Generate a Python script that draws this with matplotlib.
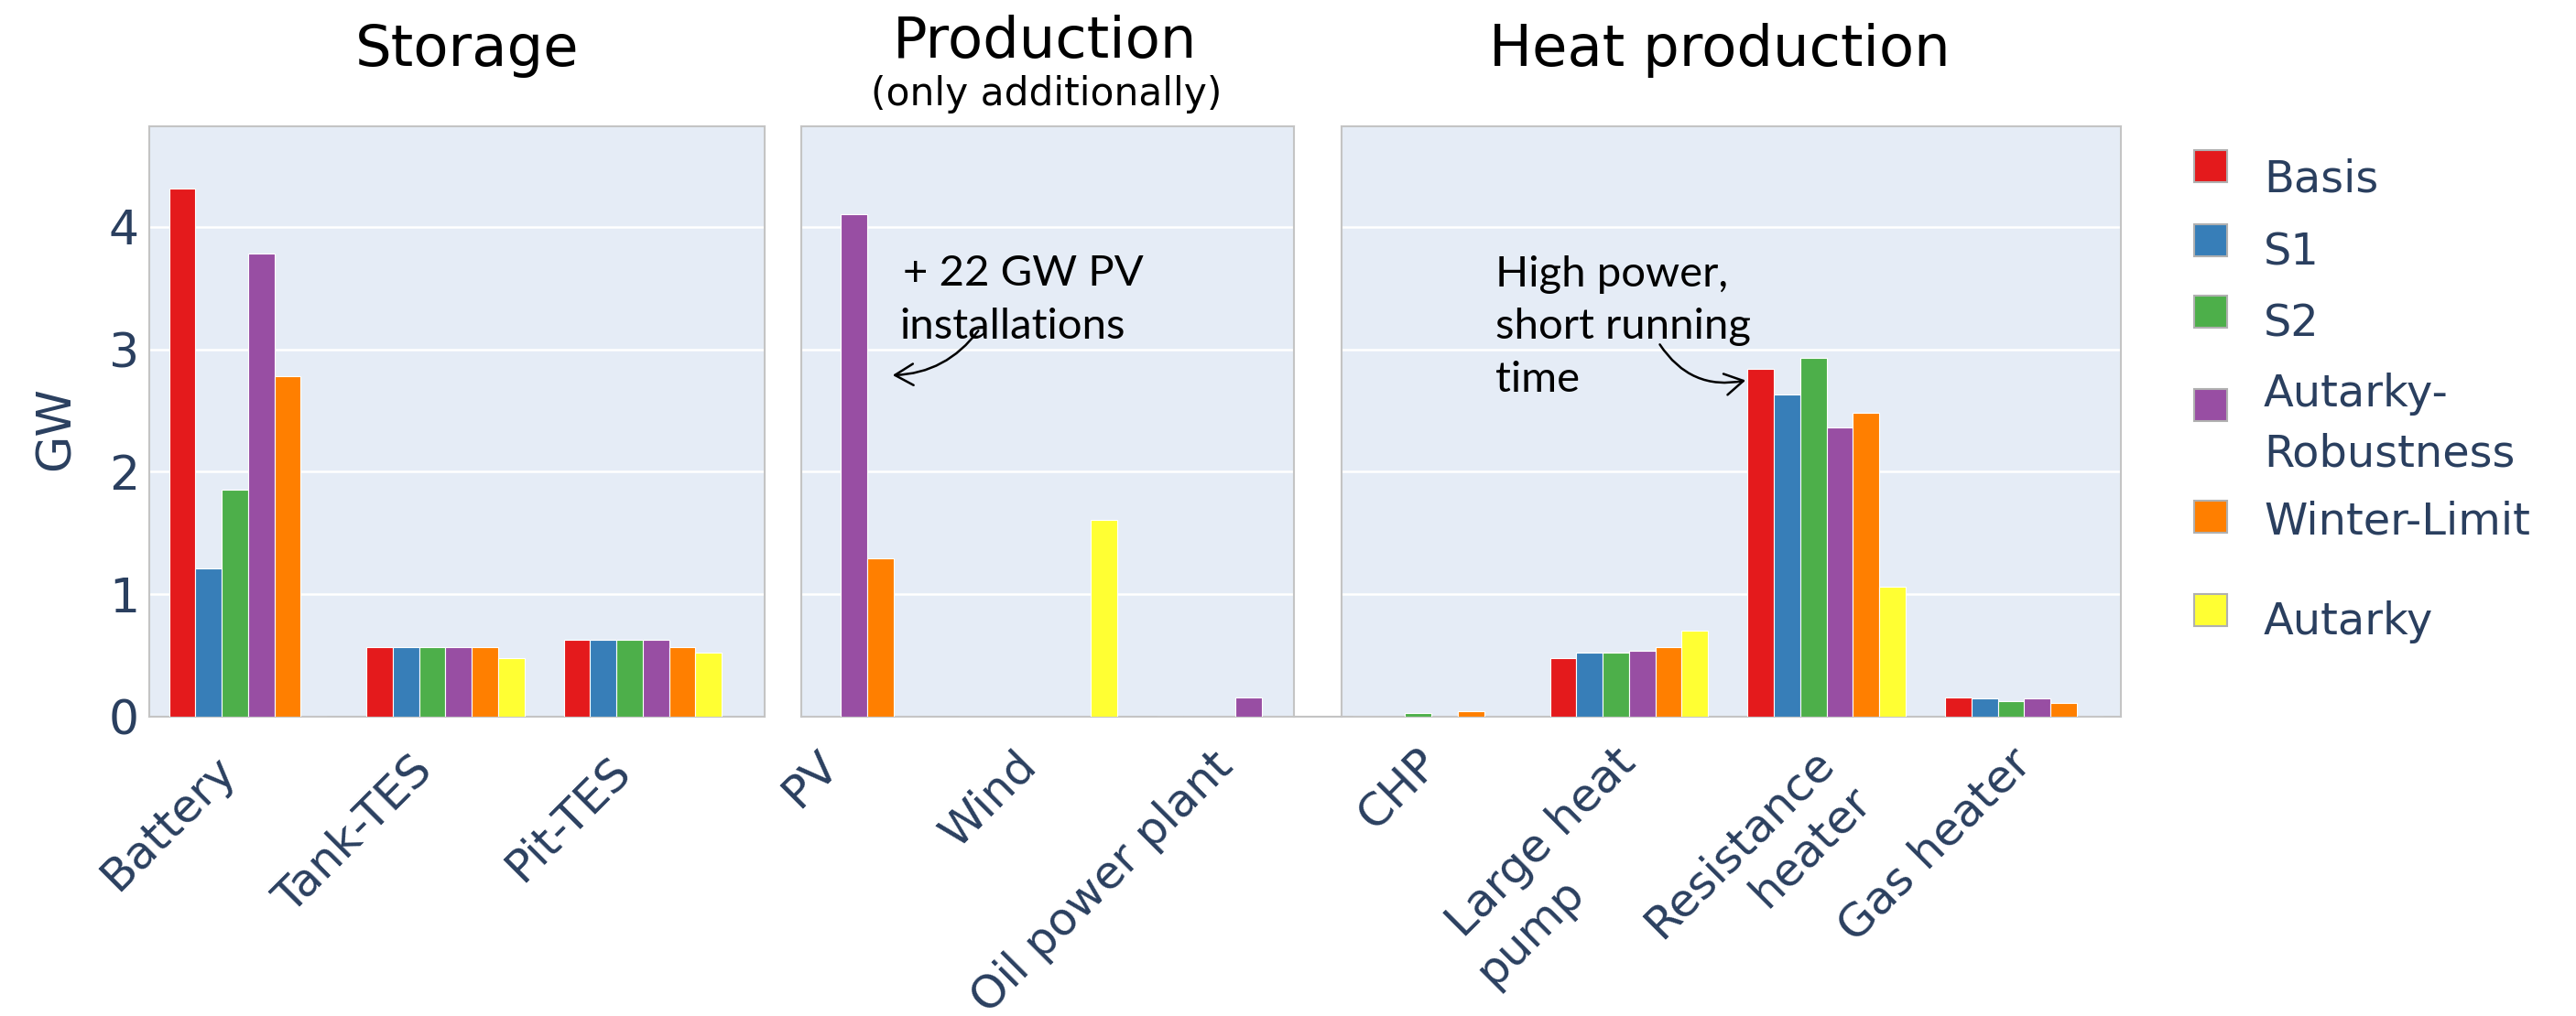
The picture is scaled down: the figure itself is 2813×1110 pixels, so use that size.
import numpy as np
import matplotlib
matplotlib.use("Agg")
import matplotlib.pyplot as plt
from matplotlib.patches import Rectangle, FancyArrowPatch
from matplotlib.lines import Line2D
from matplotlib.transforms import ScaledTranslation

# ---------------- data ----------------
series = ["Basis", "S1", "S2", "Autarky-\nRobustness", "Winter-Limit", "Autarky"]
colors = ["#e41a1c", "#377eb8", "#4daf4a", "#984ea3", "#ff7f00", "#ffff33"]

storage_cats = ["Battery", "Tank-TES", "Pit-TES"]
# rows = series (Basis, S1, S2, Autarky-Robustness, Winter-Limit, Autarky)
storage_values = [
    [4.31, 0.57, 0.63],
    [1.21, 0.57, 0.63],
    [1.85, 0.57, 0.63],
    [3.78, 0.57, 0.63],
    [2.78, 0.57, 0.57],
    [0.00, 0.48, 0.52],
]

production_cats = ["PV", "Wind", "Oil power plant"]
production_values = [
    [0.00, 0.00, 0.00],
    [0.00, 0.00, 0.00],
    [0.00, 0.00, 0.00],
    [4.10, 0.00, 0.16],
    [1.29, 0.00, 0.00],
    [0.00, 1.61, 0.00],
]

heat_cats = ["CHP", "Large heat\npump", "Resistance\nheater", "Gas heater"]
heat_values = [
    [0.00, 0.48, 2.84, 0.16],
    [0.00, 0.52, 2.63, 0.15],
    [0.03, 0.52, 2.93, 0.13],
    [0.00, 0.54, 2.36, 0.15],
    [0.045, 0.57, 2.48, 0.11],
    [0.00, 0.70, 1.06, 0.00],
]

yticks = [0, 1, 2, 3, 4]

# ---------------- figure ----------------
W, H = 2813, 1110
fig = plt.figure(figsize=(W / 100, H / 100), dpi=100)
fig.patch.set_facecolor("white")

TXT = "#2a3f5f"
BG = "#e5ecf6"
EDGE = "#c4c4c4"

# second-line offsets (screen px: right, down) for multi-line category labels
second_line_offset = {"Large heat\npump": (-57, 141), "Resistance\nheater": (41, 41)}


def fx(x):
    return x / W


def fy(y):
    return 1 - y / H


def panel(l, r, t, b, cats, values, xlim, show_y, lab_dx, lab_dy):
    ax = fig.add_axes([fx(l), fy(b), (r - l) / W, (b - t) / H])
    ax.set_facecolor(BG)
    n = len(series)
    w = 0.8 / n
    x = np.arange(len(cats))
    for j in range(n):
        ax.bar(x + (j - (n - 1) / 2) * w, values[j], width=w, color=colors[j],
               edgecolor="white", linewidth=0.8, zorder=3)
    ax.set_xlim(*xlim)
    ax.set_ylim(0, 4.82)
    ax.set_yticks(yticks)
    ax.grid(axis="y", color="white", lw=1.8, zorder=1)
    ax.grid(axis="x", visible=False)
    ax.set_axisbelow(True)
    for s in ax.spines.values():
        s.set_color(EDGE)
        s.set_linewidth(1.5)
    ax.tick_params(length=0)
    ax.set_xticks(x)
    ax.set_xticklabels([])
    # category labels, rotated 45 degrees, anchored at their right end
    for i, cat in enumerate(cats):
        lines = cat.split("\n")
        for k, line in enumerate(lines):
            dx, dy = lab_dx, 43 + lab_dy
            ha = "right"
            if k > 0:
                ox, oy = second_line_offset[cat]
                dx += ox
                dy += oy
            tr = ax.get_xaxis_transform() + ScaledTranslation(dx / 100, -dy / 100,
                                                              fig.dpi_scale_trans)
            ax.text(x[i], 0, line, transform=tr, rotation=45, ha=ha, va="center",
                    rotation_mode="anchor", fontsize=36, color=TXT,
                    family="DejaVu Sans", clip_on=False)
    if show_y:
        ax.set_yticklabels([str(v) for v in yticks], fontsize=37.5, color=TXT)
        ax.tick_params(axis="y", pad=8)
    else:
        ax.set_yticklabels([])
    return ax


ax1 = panel(163, 835, 138, 783, storage_cats, storage_values, (-0.5, 2.617), True, -22, 8)
ax2 = panel(875, 1413, 138, 783, production_cats, production_values, (-0.2, 2.297), False, -10, 3)
ax3 = panel(1465, 2316, 138, 783, heat_cats, heat_values, (-0.455, 3.49), False, 0, 0)

# bottom line continues across the gap between production and heat
fig.add_artist(Line2D([fx(1413), fx(1465)], [fy(783), fy(783)], color=EDGE, lw=1.5,
                      transform=fig.transFigure))

# y-axis title
fig.text(fx(62), fy(468), "GW", rotation=90, ha="center", va="center",
         fontsize=37.5, color=TXT)

# panel titles
fig.text(fx(510), fy(72), "Storage", ha="center", va="baseline", fontsize=45, color="black")
fig.text(fx(1141), fy(63), "Production", ha="center", va="baseline", fontsize=45, color="black")
fig.text(fx(1143), fy(115), "(only additionally)", ha="center", va="baseline",
         fontsize=30.5, color="black")
fig.text(fx(1878), fy(72), "Heat production", ha="center", va="baseline", fontsize=45, color="black")

# annotations
ann_font = dict(fontsize=34, color="black", family=["Lato", "DejaVu Sans"], va="baseline", ha="left")
fig.text(fx(986), fy(312), "+ 22 GW PV", **ann_font)
fig.text(fx(982), fy(370), "installations", **ann_font)
fig.text(fx(1633), fy(313), "High power,", **ann_font)
fig.text(fx(1633), fy(370), "short running", **ann_font)
fig.text(fx(1633), fy(428), "time", **ann_font)

arr1 = FancyArrowPatch((fx(1070), fy(359)), (fx(972), fy(410)), transform=fig.transFigure,
                       arrowstyle="->,head_length=0.6,head_width=0.35", mutation_scale=24,
                       connectionstyle="arc3,rad=-0.25", color="black", lw=1.8)
fig.add_artist(arr1)
arr2 = FancyArrowPatch((fx(1811), fy(374)), (fx(1909), fy(415)), transform=fig.transFigure,
                       arrowstyle="->,head_length=0.6,head_width=0.35", mutation_scale=24,
                       connectionstyle="arc3,rad=0.35", color="black", lw=1.8)
fig.add_artist(arr2)

# legend (drawn manually)
sq_tops = [164, 245, 323, 425, 547, 649]
text_baselines = [[209], [289], [367], [444, 510], [584], [693]]
for j, name in enumerate(series):
    fig.add_artist(Rectangle((fx(2396), fy(sq_tops[j] + 35)), 36 / W, 35 / H,
                             transform=fig.transFigure, facecolor=colors[j],
                             edgecolor="#b0b0b0", lw=1.5))
    for line, bl in zip(name.split("\n"), text_baselines[j]):
        fig.text(fx(2472), fy(bl), line, ha="left", va="baseline", fontsize=34.5, color=TXT)

fig.savefig("out.png", dpi=100)
